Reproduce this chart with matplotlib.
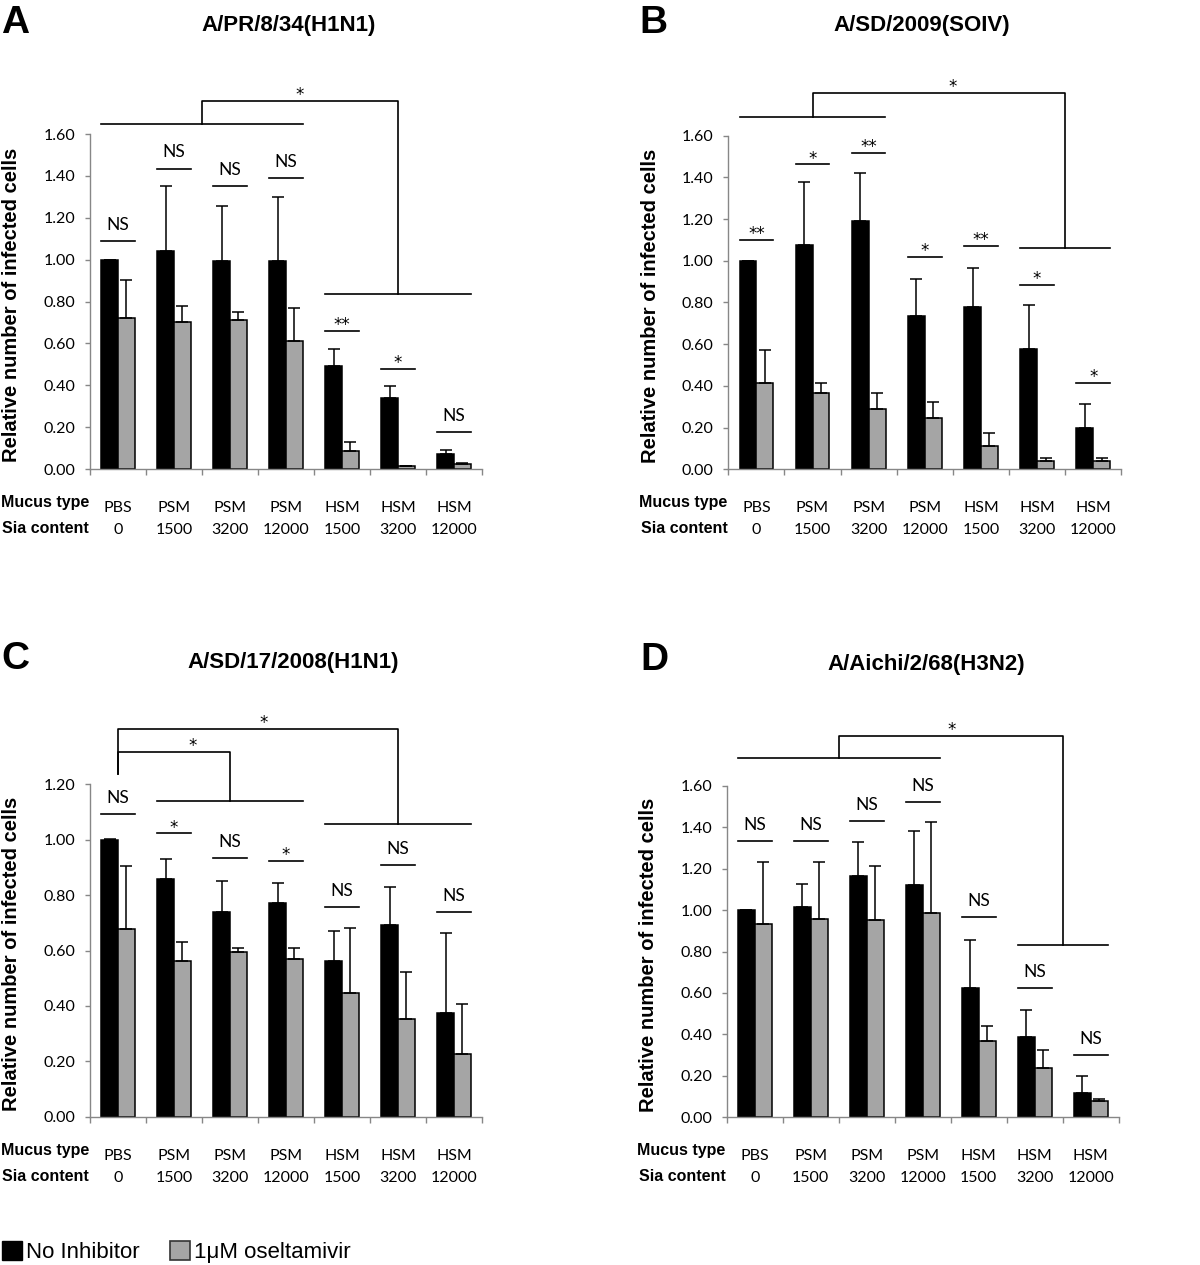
import matplotlib.pyplot as plt
import numpy as np
from matplotlib.patches import Patch

plt.rcParams['font.family'] = ['Lato', 'DejaVu Sans']

BOLD = ['Liberation Sans', 'DejaVu Sans']
GREY = '#a5a5a5'
AXGREY = '#878787'

mucus_type = ['PBS', 'PSM', 'PSM', 'PSM', 'HSM', 'HSM', 'HSM']
sia_content = ['0', '1500', '3200', '12000', '1500', '3200', '12000']

# A/PR/8/34(H1N1)
a_black = [1.00, 1.04, 0.995, 0.995, 0.49, 0.34, 0.07]
a_black_err = [0.0, 0.31, 0.26, 0.305, 0.085, 0.055, 0.022]
a_grey = [0.72, 0.70, 0.71, 0.61, 0.085, 0.012, 0.025]
a_grey_err = [0.185, 0.08, 0.04, 0.16, 0.042, 0.0, 0.006]
a_sig = ['NS', 'NS', 'NS', 'NS', '**', '*', 'NS']
a_sig_y = [1.09, 1.435, 1.353, 1.39, 0.66, 0.48, 0.177]

# A/SD/2009(SOIV)
b_black = [1.00, 1.075, 1.19, 0.737, 0.78, 0.575, 0.20]
b_black_err = [0.0, 0.305, 0.23, 0.175, 0.186, 0.213, 0.113]
b_grey = [0.412, 0.368, 0.288, 0.244, 0.111, 0.04, 0.04]
b_grey_err = [0.16, 0.044, 0.08, 0.079, 0.061, 0.015, 0.015]
b_sig = ['**', '*', '**', '*', '**', '*', '*']
b_sig_y = [1.10, 1.463, 1.517, 1.019, 1.071, 0.886, 0.414]

# A/SD/17/2008(H1N1)
c_black = [1.00, 0.859, 0.739, 0.773, 0.562, 0.692, 0.373]
c_black_err = [0.003, 0.072, 0.113, 0.072, 0.107, 0.138, 0.289]
c_grey = [0.676, 0.562, 0.596, 0.568, 0.447, 0.354, 0.225]
c_grey_err = [0.229, 0.068, 0.012, 0.04, 0.235, 0.167, 0.181]
c_sig = ['NS', '*', 'NS', '*', 'NS', 'NS', 'NS']
c_sig_y = [1.093, 1.023, 0.934, 0.924, 0.757, 0.909, 0.740]

# A/Aichi/2/68(H3N2)
d_black = [1.00, 1.016, 1.164, 1.121, 0.625, 0.389, 0.116]
d_black_err = [0.0, 0.11, 0.166, 0.262, 0.229, 0.13, 0.085]
d_grey = [0.933, 0.958, 0.950, 0.986, 0.368, 0.236, 0.079]
d_grey_err = [0.30, 0.275, 0.264, 0.439, 0.071, 0.087, 0.008]
d_sig = ['NS'] * 7
d_sig_y = [1.333, 1.333, 1.428, 1.523, 0.965, 0.624, 0.30]

# group comparisons: (left groups, left y, right groups, right y, top y, star x)
a_brackets = [((0, 3), 1.65, (4, 6), 0.835, 1.76, 3.25)]
b_brackets = [((0, 2), 1.689, (5, 6), 1.062, 1.806, 3.49)]
c_brackets = [((0, 0), 1.236, (1, 3), 1.141, 1.316, 1.33),
              ((0, 0), 1.236, (4, 6), 1.056, 1.40, 2.6)]
d_brackets = [((0, 3), 1.734, (5, 6), 0.833, 1.841, 3.51)]

panels = [
    ('A', 'A/PR/8/34(H1N1)', [90, 469, 392, 335], 1.6, 289, 31.5, 33,
     a_black, a_black_err, a_grey, a_grey_err, a_sig, a_sig_y, a_brackets),
    ('B', 'A/SD/2009(SOIV)', [728.3, 469.3, 393, 333.6], 1.6, 922, 31.5, 33,
     b_black, b_black_err, b_grey, b_grey_err, b_sig, b_sig_y, b_brackets),
    ('C', 'A/SD/17/2008(H1N1)', [90, 1116.7, 392, 332.4], 1.2, 293, 668, 669,
     c_black, c_black_err, c_grey, c_grey_err, c_sig, c_sig_y, c_brackets),
    ('D', 'A/Aichi/2/68(H3N2)', [726.7, 1117.3, 392, 331.6], 1.6, 926, 670, 670,
     d_black, d_black_err, d_grey, d_grey_err, d_sig, d_sig_y, d_brackets),
]

W, H = 1200, 1265
fig = plt.figure(figsize=(W / 100, H / 100), dpi=100)

letter_x = {'A': 1, 'B': 639, 'C': 1, 'D': 640}


def sig_text(ax, x, y, s):
    if s == 'NS':
        ax.annotate(s, xy=(x, y), xytext=(0, 8), textcoords='offset points',
                    ha='center', va='baseline', fontsize=12.5, annotation_clip=False)
    else:
        ax.annotate(s, xy=(x, y), xytext=(0, 0.5), textcoords='offset points',
                    ha='center', va='baseline', fontsize=12, family='DejaVu Sans',
                    annotation_clip=False)


for (letter, title, box, ymax, tx, ty, ly, black, black_err, grey, grey_err,
     sig, sig_y, brackets) in panels:
    left, bottom, w, h = box
    ax = fig.add_axes([left / W, 1 - bottom / H, w / W, h / H])
    x = np.arange(len(black))
    bw = 0.3
    ax.bar(x - bw / 2, black, bw, color='black', edgecolor='black', linewidth=1.1, zorder=2)
    ax.bar(x + bw / 2, grey, bw, color=GREY, edgecolor='black', linewidth=1.1, zorder=2)
    ax.errorbar(x - bw / 2, black, yerr=[np.zeros(len(x)), black_err], fmt='none',
                ecolor='black', elinewidth=1.1, capsize=4, capthick=1.1, zorder=3)
    ax.errorbar(x + bw / 2, grey, yerr=[np.zeros(len(x)), grey_err], fmt='none',
                ecolor='black', elinewidth=1.1, capsize=4, capthick=1.1, zorder=3)

    ax.set_xlim(-0.5, len(x) - 0.5)
    ax.set_ylim(0, ymax)
    ax.set_yticks(np.arange(0, ymax + 0.01, 0.2))
    ax.set_yticklabels([f'{v:.2f}' for v in np.arange(0, ymax + 0.01, 0.2)])
    ax.set_xticks(np.arange(-0.5, len(x), 1))
    ax.set_xticklabels([])
    for s in ['top', 'right']:
        ax.spines[s].set_visible(False)
    for s in ['left', 'bottom']:
        ax.spines[s].set_color(AXGREY)
        ax.spines[s].set_linewidth(1.0)
    ax.tick_params(axis='y', color=AXGREY, length=3.6, width=1.0, labelsize=11.5, pad=7)
    ax.tick_params(axis='x', color=AXGREY, length=4, width=1.0)

    ax.set_ylabel('Relative number of infected cells', fontsize=14.5,
                  fontweight='bold', family=BOLD)
    ax.yaxis.set_label_coords(-0.175, 0.49)

    # pairwise significance lines
    for i, (s, y) in enumerate(zip(sig, sig_y)):
        ax.plot([i - 0.3, i + 0.3], [y, y], color='black', lw=1.2, clip_on=False)
        sig_text(ax, i, y, s)

    # group comparison brackets
    for (l0, l1), yl, (r0, r1), yr, ytop, sx in brackets:
        lm = (l0 + l1) / 2
        rm = (r0 + r1) / 2
        if l1 > l0:
            ax.plot([l0 - 0.3, l1 + 0.3], [yl, yl], color='black', lw=1.2, clip_on=False)
        ax.plot([r0 - 0.3, r1 + 0.3], [yr, yr], color='black', lw=1.2, clip_on=False)
        ax.plot([lm, lm, rm, rm], [yl, ytop, ytop, yr], color='black', lw=1.2, clip_on=False)
        sig_text(ax, sx, ytop, '*')

    # category labels under the axis
    ax.annotate('Mucus type', xy=(0, 0), xycoords='axes fraction', xytext=(-1, -38),
                textcoords='offset pixels', ha='right', va='baseline',
                fontsize=11.5, fontweight='bold', family=BOLD)
    ax.annotate('Sia content', xy=(0, 0), xycoords='axes fraction', xytext=(-1, -64),
                textcoords='offset pixels', ha='right', va='baseline',
                fontsize=11.5, fontweight='bold', family=BOLD)
    for i in x:
        ax.annotate(mucus_type[i], xy=(i, 0), xycoords=('data', 'axes fraction'),
                    xytext=(0, -43), textcoords='offset pixels', ha='center',
                    va='baseline', fontsize=11.5)
        ax.annotate(sia_content[i], xy=(i, 0), xycoords=('data', 'axes fraction'),
                    xytext=(0, -65), textcoords='offset pixels', ha='center',
                    va='baseline', fontsize=11.5)

    fig.text(tx / W, 1 - ty / H, title, ha='center', va='baseline', fontsize=16,
             fontweight='bold', family=BOLD)
    fig.text(letter_x[letter] / W, 1 - ly / H, letter, ha='left', va='baseline',
             fontsize=28, fontweight='bold', family=BOLD)

handles = [Patch(facecolor='black', edgecolor='black', label='No Inhibitor'),
           Patch(facecolor=GREY, edgecolor='#333333', linewidth=1.2, label='1μM oseltamivir')]
fig.legend(handles=handles, loc='center left', bbox_to_anchor=(0.002, 1 - 1252 / H),
           ncol=2, frameon=False, prop={'family': BOLD, 'size': 16},
           handlelength=0.9, handleheight=0.9, handletextpad=0.15,
           columnspacing=1.4, borderaxespad=0, borderpad=0)

fig.savefig('out.png', dpi=100, facecolor='white')
